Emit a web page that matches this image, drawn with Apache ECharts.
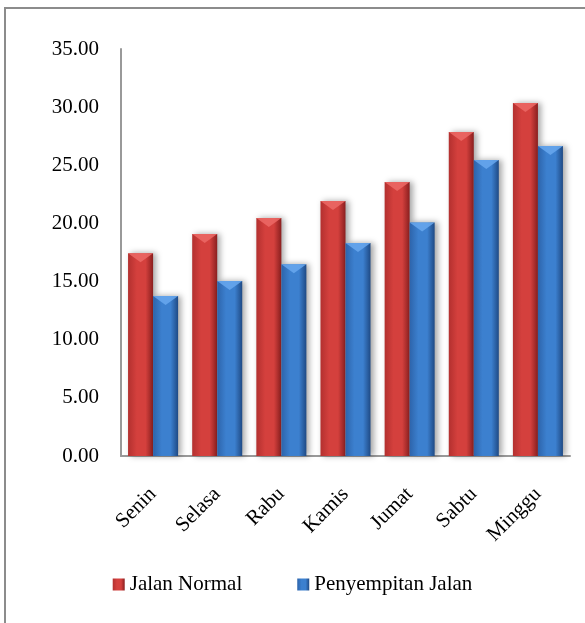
<!DOCTYPE html>
<html>
<head>
<meta charset="utf-8">
<script src="https://cdn.jsdelivr.net/npm/echarts@6/dist/echarts.min.js"></script>
<style>
  html, body { margin: 0; padding: 0; background: #fff; }
  #main { width: 585px; height: 623px; }
</style>
</head>
<body>
<div id="main"></div>
<script>
var days = ['Senin', 'Selasa', 'Rabu', 'Kamis', 'Jumat', 'Sabtu', 'Minggu'];
var jalanNormal = [17.43, 19.09, 20.46, 21.93, 23.56, 27.86, 30.35];
var penyempitan = [13.76, 15.05, 16.48, 18.31, 20.09, 25.45, 26.65];
var seriesNames = ['Jalan Normal', 'Penyempitan Jalan'];

var font = "'Liberation Serif', 'Times New Roman', serif";

function barGradient(edge, mid, dark) {
  return new echarts.graphic.LinearGradient(0, 0, 1, 0, [
    { offset: 0, color: edge },
    { offset: 0.35, color: mid },
    { offset: 0.7, color: mid },
    { offset: 1, color: dark }
  ]);
}

// bevelled top of each bar
function bevel(name, data, color) {
  return {
    name: name,
    type: 'pictorialBar',
    data: data,
    symbol: 'path://M0,0 L10,0 L5,6 Z',
    symbolSize: ['100%', 9],
    symbolPosition: 'end',
    symbolOffset: [0, 0],
    barGap: '0%',
    barCategoryGap: '22%',
    z: 3,
    silent: true,
    itemStyle: { color: color, opacity: 0.85 }
  };
}

var chartDom = document.getElementById('main');
var myChart = echarts.init(chartDom);
var option;

option = {
  animation: false,
  textStyle: { fontFamily: font, color: '#000' },
  graphic: [
    {
      type: 'rect',
      shape: { x: 5, y: 8, width: 800, height: 800 },
      style: { fill: 'none', stroke: '#8c8c8c', lineWidth: 2 },
      silent: true
    }
  ],
  legend: {
    data: seriesNames,
    left: 'center',
    top: 569,
    itemWidth: 12,
    itemHeight: 12,
    itemGap: 55,
    icon: 'rect',
    textStyle: { fontFamily: font, fontSize: 21, color: '#000' }
  },
  grid: {
    left: 121,
    right: 15,
    top: 49,
    bottom: 167,
    containLabel: false
  },
  xAxis: {
    type: 'category',
    data: days,
    axisLine: { lineStyle: { color: '#999', width: 2 } },
    axisTick: { show: false },
    axisLabel: {
      rotate: 45,
      margin: 35,
      fontFamily: font,
      fontSize: 21,
      color: '#000'
    }
  },
  yAxis: {
    type: 'value',
    min: 0,
    max: 35,
    interval: 5,
    splitLine: { show: false },
    axisLine: { show: true, lineStyle: { color: '#999', width: 2 } },
    axisTick: { show: false },
    axisLabel: {
      margin: 22,
      fontFamily: font,
      fontSize: 21,
      color: '#000',
      formatter: function (v) { return v.toFixed(2); }
    }
  },
  series: [
    {
      name: seriesNames[0],
      type: 'bar',
      data: jalanNormal,
      barGap: '0%',
      barCategoryGap: '22%',
      itemStyle: {
        color: barGradient('#b3302f', '#d4403d', '#8a1f1f'),
        shadowBlur: 6,
        shadowColor: 'rgba(0,0,0,0.35)',
        shadowOffsetX: 3
      }
    },
    {
      name: seriesNames[1],
      type: 'bar',
      data: penyempitan,
      itemStyle: {
        color: barGradient('#2d64ab', '#3c80cf', '#1f4a85'),
        shadowBlur: 6,
        shadowColor: 'rgba(0,0,0,0.35)',
        shadowOffsetX: 3
      }
    },
    bevel('bevel1', jalanNormal, '#ec6a66'),
    bevel('bevel2', penyempitan, '#68a8ee')
  ]
};

option && myChart.setOption(option);
</script>
</body>
</html>
